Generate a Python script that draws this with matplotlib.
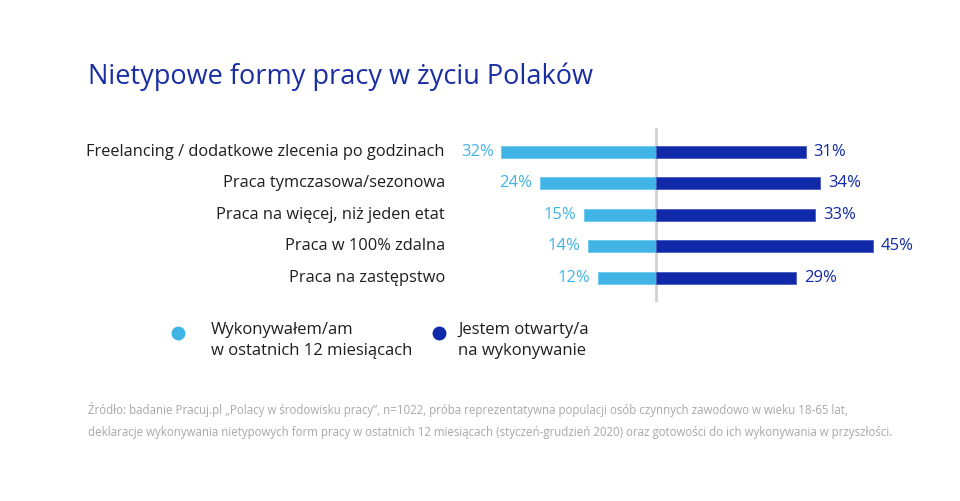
import matplotlib
matplotlib.use("Agg")
import matplotlib.pyplot as plt
from matplotlib.lines import Line2D

plt.rcParams['font.family'] = ['Open Sans', 'DejaVu Sans']

title = "Nietypowe formy pracy w życiu Polaków"
categories = ["Freelancing / dodatkowe zlecenia po godzinach",
              "Praca tymczasowa/sezonowa",
              "Praca na więcej, niż jeden etat",
              "Praca w 100% zdalna",
              "Praca na zastępstwo"]
done = [32, 24, 15, 14, 12]
open_to = [31, 34, 33, 45, 29]
legend_labels = ["Wykonywałem/am\nw ostatnich 12 miesiącach",
                 "Jestem otwarty/a\nna wykonywanie"]
source = ("Źródło: badanie Pracuj.pl „Polacy w środowisku pracy”, n=1022, próba reprezentatywna populacji osób czynnych zawodowo w wieku 18-65 lat,\n"
          "deklaracje wykonywania nietypowych form pracy w ostatnich 12 miesiącach (styczeń-grudzień 2020) oraz gotowości do ich wykonywania w przyszłości.")

LIGHT = "#41b4e6"
DARK = "#1029a8"
W, H = 960, 501

fig = plt.figure(figsize=(9.6, 5.01), dpi=100)
fig.patch.set_facecolor("white")

scale = 4.83
cx = 656
xmin, xmax = -40, 50
top_px, bot_px = 128, 302
row0, step = 151.5, 31.5
ax = fig.add_axes([(cx + xmin * scale) / W, 1 - bot_px / H,
                   (xmax - xmin) * scale / W, (bot_px - top_px) / H])
ax.set_xlim(xmin, xmax)
ax.set_ylim((bot_px - row0) / step, (top_px - row0) / step)
ax.axis("off")

ys = list(range(len(categories)))
bh = 12 / step
ax.barh(ys, [-v for v in done], height=bh, color=LIGHT, edgecolor="#6cc6ee", linewidth=0.6)
ax.barh(ys, open_to, height=bh, color=DARK, edgecolor="#4a5cc0", linewidth=0.6)
ax.axvline(0, color="#d0d0d0", lw=2, zorder=0)

for y, c, d, o in zip(ys, categories, done, open_to):
    ax.annotate(c, xy=(445 / W, y), xycoords=("figure fraction", "data"),
                ha="right", va="center", fontsize=11.8, color="#1e1e1e")
    ax.text(-d - 1.6, y, f"{d}%", ha="right", va="center", fontsize=12, color=LIGHT)
    ax.text(o + 1.6, y, f"{o}%", ha="left", va="center", fontsize=12, color=DARK)

fig.text(88 / W, 1 - 77 / H, title, ha="left", va="center", fontsize=19.5, color="#1a2ea3")

# legend
for (mx, tx, col, lab) in [(178, 211, LIGHT, legend_labels[0]), (439, 458, DARK, legend_labels[1])]:
    fig.add_artist(Line2D([mx / W], [1 - 333 / H], marker="o", markersize=9,
                          color=col, linestyle="none", transform=fig.transFigure))
    fig.text(tx / W, 1 - 322 / H, lab, ha="left", va="top", fontsize=12,
             color="#1e1e1e", linespacing=1.45)

fig.text(88 / W, 1 - 402 / H, source, ha="left", va="top", fontsize=8.3,
         color="#a8a8a8", linespacing=1.9,
         family=["Open Sans", "DejaVu Sans"])

fig.savefig("out.png", dpi=100, facecolor="white")
